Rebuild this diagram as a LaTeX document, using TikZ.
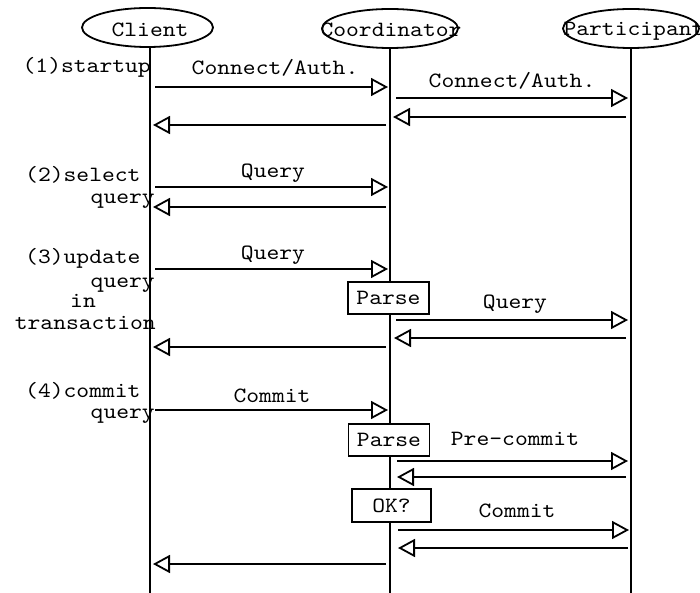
\documentclass[tikz,border=0pt]{standalone}
\usepackage{fontspec}
\newfontfamily\courlike{lmmono10-regular.otf}[FakeStretch=1.12]
\usetikzlibrary{arrows.meta,shapes.geometric}
\begin{document}
\begin{tikzpicture}[x=1pt,y=-1pt,
  every node/.style={font=\courlike\fontsize{21.8}{24}\selectfont, inner sep=0pt},
  actor/.style={draw, ellipse, line width=1.8pt, minimum width=#1, minimum height=39pt},
  life/.style={line width=1.8pt},
  msg/.style={line width=1.8pt, -{Triangle[open,length=17pt,width=18pt]}},
  procbox/.style={draw, fill=white, line width=1.8pt, minimum width=81pt, minimum height=32pt},
  lbl/.style={anchor=base},
  notel/.style={anchor=base west},
  noter/.style={anchor=base east}]
\useasboundingbox (0,0) rectangle (700,593);
% actors
\node[actor=131pt] (client) at (147.5,27.5) {};
\node[actor=136pt] (coord) at (390,28.5) {};
\node[actor=136pt] (part) at (631,28.5) {};
\node[lbl] (clientt) at (150,37) {Client};
\node[lbl] (coordt) at (391,37) {Coordinator};
\node[lbl] (partt) at (634,36) {Participant};
% lifelines
\coordinate (cT) at (150,47); \coordinate (cB) at (150,593);
\coordinate (oT) at (390,48); \coordinate (oB) at (390,593);
\coordinate (pT) at (631,48); \coordinate (pB) at (631,593);
\draw[life] (cT) -- (cB);
\draw[life] (oT) -- (oB);
\draw[life] (pT) -- (pB);
% left notes
\node[noter] (n1) at (151,73) {(1)startup};
\node[notel] (n2a) at (25,181.5) {(2)select};
\node[noter] (n2b) at (155,204) {query};
\node[notel] (n3a) at (25,263) {(3)update};
\node[noter] (n3b) at (155,287) {query};
\node[notel] (n3c) at (70,307) {in};
\node[noter] (n3d) at (156,329) {transaction};
\node[notel] (n4a) at (25,397) {(4)commit};
\node[noter] (n4b) at (155,418) {query};
% process boxes
\node[procbox] (parse1) at (388.5,298) {Parse};
\node[procbox] (parse2) at (389,440) {Parse};
\node[procbox, minimum width=79pt, minimum height=33pt] (ok) at (391.5,505.5) {OK?};
% message end points
\coordinate (m1a) at (155,87);  \coordinate (m1b) at (388,87);
\coordinate (m2a) at (396,98);  \coordinate (m2b) at (628,98);
\coordinate (m3a) at (626,117); \coordinate (m3b) at (393,117);
\coordinate (m4a) at (386,125); \coordinate (m4b) at (153,125);
\coordinate (m5a) at (155,187); \coordinate (m5b) at (388,187);
\coordinate (m6a) at (386,207); \coordinate (m6b) at (153,207);
\coordinate (m7a) at (155,269); \coordinate (m7b) at (388,269);
\coordinate (m8a) at (396,320); \coordinate (m8b) at (628,320);
\coordinate (m9a) at (626,338); \coordinate (m9b) at (394,338);
\coordinate (m10a) at (386,347); \coordinate (m10b) at (153,347);
\coordinate (m11a) at (155,410); \coordinate (m11b) at (388,410);
\coordinate (m12a) at (397,461); \coordinate (m12b) at (628,461);
\coordinate (m13a) at (626,477); \coordinate (m13b) at (397,477);
\coordinate (m14a) at (398,530); \coordinate (m14b) at (629,530);
\coordinate (m15a) at (628,548); \coordinate (m15b) at (398,548);
\coordinate (m16a) at (386,564); \coordinate (m16b) at (153,564);
\draw[msg] (m1a) -- (m1b);
\draw[msg] (m2a) -- (m2b);
\draw[msg] (m3a) -- (m3b);
\draw[msg] (m4a) -- (m4b);
\draw[msg] (m5a) -- (m5b);
\draw[msg] (m6a) -- (m6b);
\draw[msg] (m7a) -- (m7b);
\draw[msg] (m8a) -- (m8b);
\draw[msg] (m9a) -- (m9b);
\draw[msg] (m10a) -- (m10b);
\draw[msg] (m11a) -- (m11b);
\draw[msg] (m12a) -- (m12b);
\draw[msg] (m13a) -- (m13b);
\draw[msg] (m14a) -- (m14b);
\draw[msg] (m15a) -- (m15b);
\draw[msg] (m16a) -- (m16b);
% message labels
\node[lbl] (l1) at (275,75) {Connect/Auth.};
\node[lbl] (l2) at (512,88) {Connect/Auth.};
\node[lbl] (l5) at (273,178) {Query};
\node[lbl] (l7) at (273,259) {Query};
\node[lbl] (l8) at (515,308) {Query};
\node[lbl] (l11) at (272,402) {Commit};
\node[lbl] (l12) at (515,445) {Pre-commit};
\node[lbl] (l14) at (517,517) {Commit};
\end{tikzpicture}
\end{document}
